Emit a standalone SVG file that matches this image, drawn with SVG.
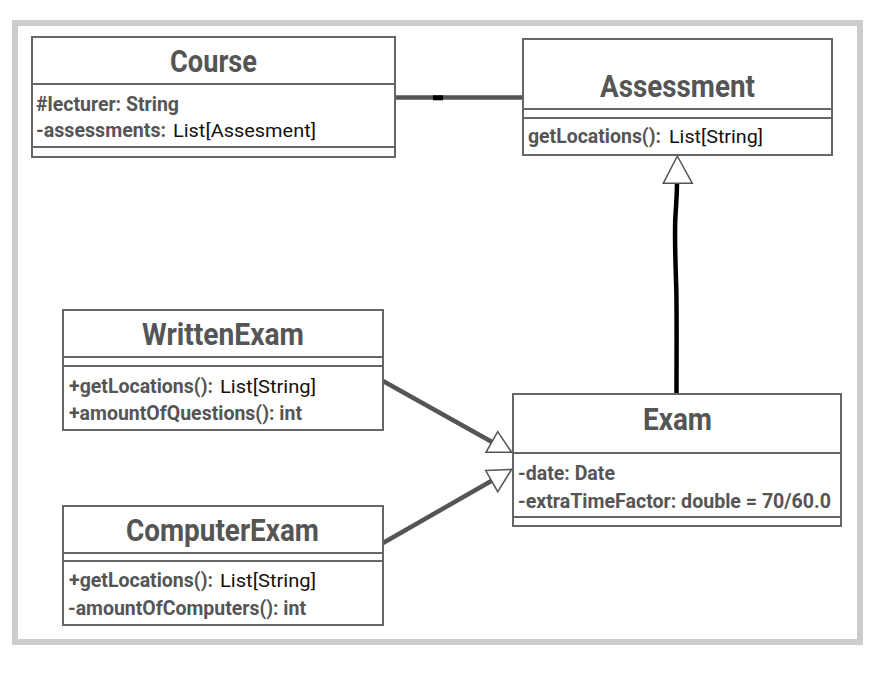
<svg xmlns="http://www.w3.org/2000/svg" width="882" height="673" viewBox="0 0 882 673">
<style>
.box{fill:#fff;stroke:#666;stroke-width:2}
.div{stroke:#666;stroke-width:2}
.title{font-family:Roboto,"Liberation Sans",sans-serif;font-weight:bold;font-size:32px;fill:#555}
.b{font-family:Roboto,"Liberation Sans",sans-serif;font-weight:bold;font-size:20.5px;fill:#555}
.r{font-family:Roboto,"Liberation Sans",sans-serif;font-size:19px;fill:#111}
.conn{fill:none;stroke:#555;stroke-width:4.5}
.tri{fill:#fff;stroke:#555;stroke-width:1.5}
</style>
<rect width="882" height="673" fill="#fff"/>
<rect x="15" y="23" width="845" height="619" fill="#fff" stroke="#ccc" stroke-width="6"/>
<g id="connectors">
<line class="conn" x1="395" y1="97.5" x2="523" y2="97.5"/>
<rect x="433" y="95.3" width="10" height="5" fill="#000"/>
<path d="M676.5 394 C676.5 350 677 300 676 280 C675 250 674.5 230 675.5 215 C676.5 200 677 190 677 183" fill="none" stroke="#000" stroke-width="4.5"/>
<polygon class="tri" points="677.3,156 663.3,183.3 692.3,183.3"/>
<line class="conn" x1="383" y1="381" x2="492" y2="442"/>
<polygon class="tri" points="486,452.3 511.7,452.3 497.7,431.7"/>
<line class="conn" x1="383" y1="543" x2="493" y2="480"/>
<polygon class="tri" points="485.7,470.5 511.7,469.3 497.7,491.7"/>
</g>
<g id="Course">
<rect class="box" x="32" y="37" width="363" height="120"/>
<line class="div" x1="32" y1="84" x2="395" y2="84"/>
<line class="div" x1="32" y1="147" x2="395" y2="147"/>
<text class="title" x="170" y="72" textLength="87" lengthAdjust="spacingAndGlyphs">Course</text>
<text class="b" x="36" y="111" textLength="143" lengthAdjust="spacingAndGlyphs">#lecturer: String</text>
<text class="b" x="36" y="137" textLength="130" lengthAdjust="spacingAndGlyphs">-assessments:</text>
<text class="r" x="173" y="137" textLength="143" lengthAdjust="spacingAndGlyphs">List[Assesment]</text>
</g>
<g id="Assessment">
<rect class="box" x="523" y="39" width="309" height="116"/>
<line class="div" x1="523" y1="109" x2="832" y2="109"/>
<line class="div" x1="523" y1="118" x2="832" y2="118"/>
<text class="title" x="600" y="97" textLength="155" lengthAdjust="spacingAndGlyphs">Assessment</text>
<text class="b" x="528" y="143" textLength="133" lengthAdjust="spacingAndGlyphs">getLocations():</text>
<text class="r" x="669" y="143" textLength="94" lengthAdjust="spacingAndGlyphs">List[String]</text>
</g>
<g id="WrittenExam">
<rect class="box" x="63" y="310" width="320" height="120"/>
<line class="div" x1="63" y1="357" x2="383" y2="357"/>
<line class="div" x1="63" y1="366" x2="383" y2="366"/>
<text class="title" x="142" y="345" textLength="162" lengthAdjust="spacingAndGlyphs">WrittenExam</text>
<text class="b" x="69" y="393" textLength="144" lengthAdjust="spacingAndGlyphs">+getLocations():</text>
<text class="r" x="220" y="393" textLength="96" lengthAdjust="spacingAndGlyphs">List[String]</text>
<text class="b" x="69" y="420" textLength="233" lengthAdjust="spacingAndGlyphs">+amountOfQuestions(): int</text>
</g>
<g id="ComputerExam">
<rect class="box" x="63" y="506" width="320" height="119"/>
<line class="div" x1="63" y1="553" x2="383" y2="553"/>
<line class="div" x1="63" y1="561" x2="383" y2="561"/>
<text class="title" x="126" y="541" textLength="193" lengthAdjust="spacingAndGlyphs">ComputerExam</text>
<text class="b" x="69" y="587" textLength="144" lengthAdjust="spacingAndGlyphs">+getLocations():</text>
<text class="r" x="220" y="587" textLength="96" lengthAdjust="spacingAndGlyphs">List[String]</text>
<text class="b" x="68" y="615" textLength="238" lengthAdjust="spacingAndGlyphs">-amountOfComputers(): int</text>
</g>
<g id="Exam">
<rect class="box" x="513" y="394" width="328" height="132"/>
<line class="div" x1="513" y1="453" x2="841" y2="453"/>
<line class="div" x1="513" y1="517" x2="841" y2="517"/>
<text class="title" x="643" y="430" textLength="69" lengthAdjust="spacingAndGlyphs">Exam</text>
<text class="b" x="518" y="480" textLength="97" lengthAdjust="spacingAndGlyphs">-date: Date</text>
<text class="b" x="518" y="508" textLength="313" lengthAdjust="spacingAndGlyphs">-extraTimeFactor: double = 70/60.0</text>
</g>
</svg>
